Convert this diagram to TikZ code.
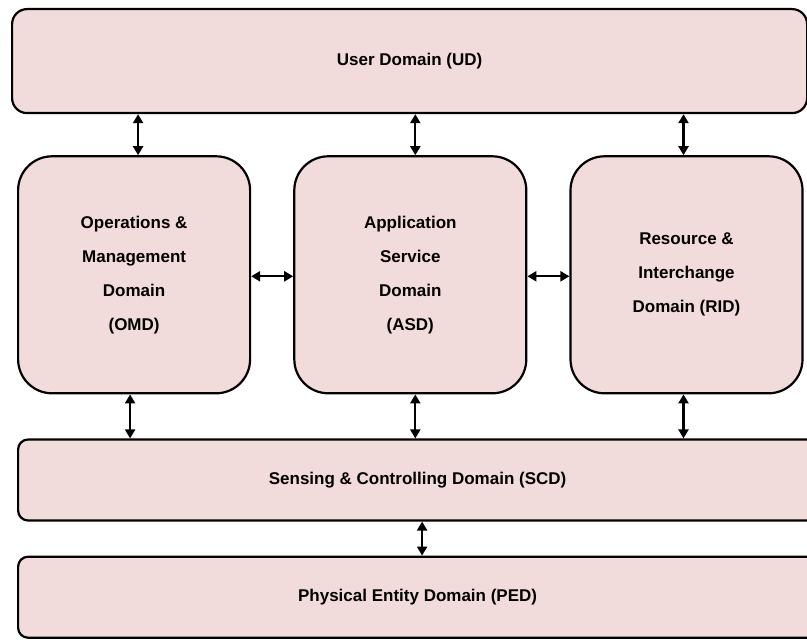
\documentclass[tikz,border=0pt]{standalone}
\usepackage{fontspec}
\setmainfont{Liberation Sans}
\usetikzlibrary{positioning,arrows.meta}
\definecolor{domainpink}{RGB}{242,220,219}
\tikzset{
	layers/.style={>={Triangle[length=4.5pt,width=5pt]},line width=1.1pt},
	dombox/.style={draw,fill=domainpink,align=center,inner sep=0pt,
		font=\fontsize{8.5}{17}\selectfont\bfseries},
	top dombox/.style={dombox,rounded corners=7.5pt,minimum width=397.5pt,
		minimum height=52pt},
	mid dombox/.style={dombox,rounded corners=17pt,minimum width=116pt,
		minimum height=118.5pt},
	low dombox/.style={dombox,rounded corners=5pt,minimum width=399.5pt,
		minimum height=40.5pt}
}

\begin{document}
\begin{tikzpicture}[layers]
	\useasboundingbox (0,0) rectangle (403.5pt,-320pt);
	
	\node[top dombox,anchor=north west] (ud) at (5.5pt,-4pt) {User Domain (UD)};
	\node[mid dombox] (omd) [below right=20.5pt and 3pt of ud.south west]
		{Operations \&\\Management\\Domain\\(OMD)};
	\node[mid dombox] (asd) [right=21pt of omd] {Application\\Service\\Domain\\(ASD)};
	\node[mid dombox] (rid) [right=21pt of asd] {Resource \&\\Interchange\\Domain (RID)};
	\node[low dombox] (scd) [below right=22pt and 0pt of omd.south west]
		{Sensing \& Controlling Domain (SCD)};
	\node[low dombox] (ped) [below right=17pt and 0pt of scd.south west]
		{Physical Entity Domain (PED)};
	
	\draw[<->] ([xshift=2pt]omd.north) -- ([xshift=2pt]omd.north |- ud.south);
	\draw[<->] ([xshift=2.5pt]asd.north) -- ([xshift=2.5pt]asd.north |- ud.south);
	\draw[<->] ([xshift=-1.5pt]rid.north) -- ([xshift=-1.5pt]rid.north |- ud.south);
	\draw[<->] ([yshift=-0.75pt]omd.east) -- ([yshift=-0.75pt]asd.west);
	\draw[<->] ([yshift=-0.75pt]asd.east) -- ([yshift=-0.75pt]rid.west);
	\draw[<->] ([xshift=-2pt]omd.south) -- ([xshift=-2pt]omd.south |- scd.north);
	\draw[<->] ([xshift=2.5pt]asd.south) -- ([xshift=2.5pt]asd.south |- scd.north);
	\draw[<->] ([xshift=-1.5pt]rid.south) -- ([xshift=-1.5pt]rid.south |- scd.north);
	\draw[<->] ([xshift=2.25pt]scd.south) -- ([xshift=2.25pt]scd.south |- ped.north);
	
\end{tikzpicture}
\end{document}
